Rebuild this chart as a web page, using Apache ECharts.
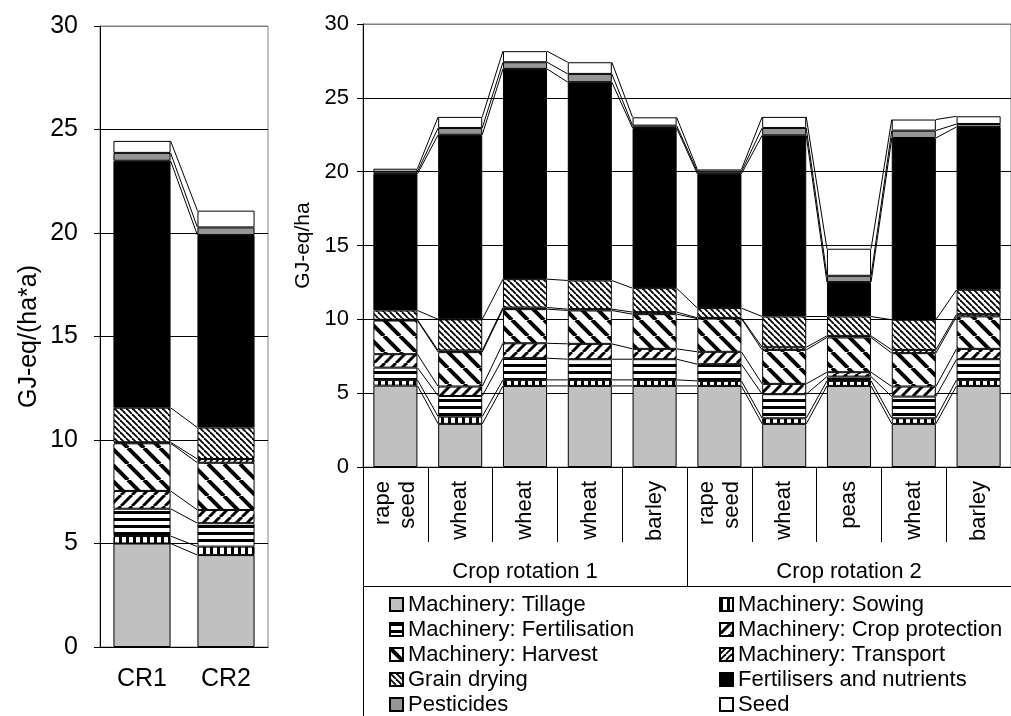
<!DOCTYPE html>
<html>
<head>
<meta charset="utf-8">
<script src="https://cdn.jsdelivr.net/npm/echarts@6/dist/echarts.min.js"></script>
<style>
html, body { margin: 0; padding: 0; background: #fff; }
#chart { width: 1011px; height: 716px; }
</style>
</head>
<body>
<div id="chart"></div>
<script>
// Energy input components, stacked bottom to top
const components = [
  'Machinery: Tillage', 'Machinery: Sowing', 'Machinery: Fertilisation',
  'Machinery: Crop protection', 'Machinery: Harvest', 'Machinery: Transport',
  'Grain drying', 'Fertilisers and nutrients', 'Pesticides', 'Seed'
];

// Left panel: mean per rotation, GJ-eq/(ha*a)
const rotationCategories = ['CR1', 'CR2'];
const rotTillage        = [5.00, 4.44];
const rotSowing         = [0.36, 0.41];
const rotFertilisation  = [1.32, 1.13];
const rotCropProtection = [0.86, 0.64];
const rotHarvest        = [2.30, 2.28];
const rotTransport      = [0.05, 0.18];
const rotGrainDrying    = [1.67, 1.52];
const rotFertilisers    = [11.93, 9.30];
const rotPesticides     = [0.38, 0.37];
const rotSeed           = [0.58, 0.81];

// Right panel: per crop, GJ-eq/ha
const crops = ['rape\nseed', 'wheat', 'wheat', 'wheat', 'barley', 'rape\nseed', 'wheat', 'peas', 'wheat', 'barley'];
const rotationGroups = ['Crop rotation 1', 'Crop rotation 2'];
const cropTillage        = [5.51, 2.92, 5.49, 5.49, 5.49, 5.49, 2.92, 5.49, 2.92, 5.49];
const cropSowing         = [0.39, 0.49, 0.41, 0.41, 0.41, 0.34, 0.38, 0.34, 0.38, 0.41];
const cropFertilisation  = [0.83, 1.40, 1.47, 1.40, 1.40, 1.13, 1.63, 0.29, 1.47, 1.40];
const cropCropProtection = [0.91, 0.64, 1.01, 1.04, 0.70, 0.84, 0.70, 0.30, 0.68, 0.70];
const cropHarvest        = [2.28, 2.33, 2.31, 2.26, 2.35, 2.25, 2.30, 2.35, 2.26, 2.20];
const cropTransport      = [0.05, 0.11, 0.11, 0.09, 0.14, 0.05, 0.18, 0.11, 0.22, 0.15];
const cropGrainDrying    = [0.63, 2.11, 1.92, 1.94, 1.62, 0.66, 2.08, 1.31, 2.04, 1.65];
const cropFertilisers    = [9.25, 12.50, 14.24, 13.43, 10.85, 9.09, 12.27, 2.33, 12.31, 11.03];
const cropPesticides     = [0.15, 0.46, 0.45, 0.56, 0.16, 0.15, 0.50, 0.43, 0.50, 0.20];
const cropSeed           = [0.20, 0.75, 0.75, 0.79, 0.56, 0.15, 0.75, 1.83, 0.75, 0.52];

const yTicks = { min: 0, max: 30, interval: 5 };

const rotStacks = [rotTillage, rotSowing, rotFertilisation, rotCropProtection, rotHarvest,
  rotTransport, rotGrainDrying, rotFertilisers, rotPesticides, rotSeed];
const cropStacks = [cropTillage, cropSowing, cropFertilisation, cropCropProtection, cropHarvest,
  cropTransport, cropGrainDrying, cropFertilisers, cropPesticides, cropSeed];

const FONT = '"Liberation Sans", Arial, sans-serif';
const BAR_RATIO = 0.68;

// Hatch fills
function tile(size, draw) {
  const c = document.createElement('canvas');
  c.width = size; c.height = size;
  const g = c.getContext('2d');
  g.fillStyle = '#fff';
  g.fillRect(0, 0, size, size);
  g.fillStyle = '#000';
  g.strokeStyle = '#000';
  draw(g, size);
  return { image: c, repeat: 'repeat' };
}
function diagonal(size, width, rising) {
  return tile(size, (g, s) => {
    g.lineWidth = width;
    for (let k = -1; k <= 1; k++) {
      g.beginPath();
      if (rising) { g.moveTo(k * s, s); g.lineTo(k * s + s, 0); }
      else { g.moveTo(k * s, 0); g.lineTo(k * s + s, s); }
      g.stroke();
    }
  });
}
const fills = [
  '#c0c0c0',
  tile(7, (g, s) => g.fillRect(0, 0, 3, s)),
  tile(7, (g, s) => g.fillRect(0, 0, s, 3)),
  diagonal(11, 3, true),
  diagonal(16, 4, false),
  diagonal(6, 1.8, true),
  diagonal(6, 1.8, false),
  '#000000',
  '#969696',
  '#ffffff'
];

function barSeries(stacks, stackName, xIdx, yIdx) {
  return stacks.map((vals, k) => ({
    name: components[k],
    type: 'bar',
    stack: stackName,
    xAxisIndex: xIdx,
    yAxisIndex: yIdx,
    barWidth: (BAR_RATIO * 100) + '%',
    data: vals,
    itemStyle: { color: fills[k], borderColor: '#000', borderWidth: 1 },
    emphasis: { disabled: true },
    z: 3
  }));
}

// Excel-style series lines joining the stack levels of neighbouring bars
function seriesLines(stacks, xIdx, yIdx) {
  const n = stacks[0].length;
  const levels = [];
  let run = new Array(n).fill(0);
  stacks.forEach(arr => {
    run = run.map((v, i) => v + arr[i]);
    levels.push(run.slice());
  });
  const gaps = [];
  for (let i = 0; i < n - 1; i++) gaps.push([i, 0]);
  return {
    type: 'custom',
    xAxisIndex: xIdx,
    yAxisIndex: yIdx,
    silent: true,
    z: 2,
    data: gaps,
    renderItem(params, api) {
      const i = api.value(0);
      const hw = api.size([1, 0])[0] * BAR_RATIO / 2;
      return {
        type: 'group',
        children: levels.map(level => {
          const a = api.coord([i, level[i]]);
          const b = api.coord([i + 1, level[i + 1]]);
          return {
            type: 'line',
            shape: { x1: a[0] + hw, y1: a[1], x2: b[0] - hw, y2: b[1] },
            style: { stroke: '#000', lineWidth: 1 }
          };
        })
      };
    }
  };
}

function valueAxis(gridIndex, name, fontSize, nameSize, margin, nameGap) {
  return {
    type: 'value',
    gridIndex,
    min: yTicks.min, max: yTicks.max, interval: yTicks.interval,
    name,
    nameLocation: 'middle',
    nameGap,
    nameTextStyle: { fontSize: nameSize, color: '#000', fontFamily: FONT },
    axisLine: { show: true, lineStyle: { color: '#000', width: 1 } },
    axisTick: { show: true, length: 6, lineStyle: { color: '#000' } },
    axisLabel: { fontSize, color: '#000', margin, fontFamily: FONT },
    splitLine: { show: true, lineStyle: { color: ['#000', '#000', '#000', '#000', '#000', '#000', '#808080'], width: 1 } }
  };
}

// Two-column legend, one entry per component (left column: even indices)
const legendText = { fontSize: 22, lineHeight: 25, color: '#000', fontFamily: FONT };
const legends = components.map((name, k) => ({
  left: k % 2 === 0 ? 389 : 719,
  top: 592 + Math.floor(k / 2) * 25,
  orient: 'horizontal',
  padding: 0,
  itemWidth: 13, itemHeight: 13,
  icon: 'rect', selectedMode: false,
  textStyle: legendText,
  data: [name]
}));

const chart = echarts.init(document.getElementById('chart'), null, { renderer: 'canvas' });

const option = {
  animation: false,
  backgroundColor: '#fff',
  textStyle: { fontFamily: FONT },
  grid: [
    { left: 100, top: 26, width: 168, height: 621, show: true, borderColor: '#808080', borderWidth: 1, backgroundColor: 'transparent' },
    { left: 363, top: 24, width: 655, height: 443, show: true, borderColor: '#808080', borderWidth: 1, backgroundColor: 'transparent' }
  ],
  xAxis: [
    {
      type: 'category', gridIndex: 0, data: rotationCategories,
      axisLine: { lineStyle: { color: '#000' } },
      axisTick: { show: false },
      axisLabel: { fontSize: 25, color: '#000', margin: 20, fontFamily: FONT }
    },
    {
      type: 'category', gridIndex: 1, data: crops,
      axisLine: { lineStyle: { color: '#000' } },
      axisTick: { show: true, length: 75, interval: 0, lineStyle: { color: '#000' } },
      axisLabel: { rotate: 90, interval: 0, fontSize: 22, lineHeight: 25, color: '#000', margin: 14, fontFamily: FONT }
    },
    {
      type: 'category', gridIndex: 1, data: rotationGroups, position: 'bottom', offset: 119,
      axisLine: { show: false },
      axisTick: { show: true, inside: true, length: 119, interval: 0, lineStyle: { color: '#000' } },
      axisLabel: { inside: true, interval: 0, fontSize: 22, color: '#000', margin: 3, fontFamily: FONT }
    }
  ],
  yAxis: [
    valueAxis(0, 'GJ-eq/(ha*a)', 25, 25, 22, 58),
    valueAxis(1, 'GJ-eq/ha', 22, 21, 14, 47)
  ],
  legend: legends,
  graphic: [
    {
      type: 'rect', left: 363, top: 586, z: 0, silent: true,
      shape: { width: 700, height: 200 },
      style: { fill: '#fff', stroke: '#000', lineWidth: 1 }
    }
  ],
  series: [
    ...barSeries(rotStacks, 'rotation', 0, 0),
    ...barSeries(cropStacks, 'crop', 1, 1),
    seriesLines(rotStacks, 0, 0),
    seriesLines(cropStacks, 1, 1)
  ]
};
chart.setOption(option);
</script>
</body>
</html>
